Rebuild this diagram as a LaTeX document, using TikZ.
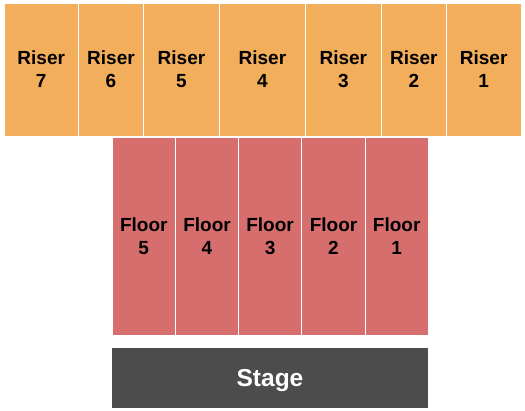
\documentclass[tikz,border=0pt]{standalone}
\usepackage{fontspec}
\setmainfont{Liberation Sans}
\definecolor{riser}{HTML}{F3AE5B}
\definecolor{floorc}{HTML}{D76E6E}
\definecolor{stagec}{HTML}{4C4C4C}
\begin{document}
\begin{tikzpicture}[x=1pt,y=-1pt,
  cell/.style={draw=white,line width=0.9pt,inner sep=0pt,align=center,
    font=\bfseries\fontsize{19}{23}\selectfont,text=black},
  riserbox/.style={cell,fill=riser},
  floorbox/.style={cell,fill=floorc},
  stagebox/.style={fill=stagec,inner sep=0pt,text=white,
    font=\bfseries\fontsize{24.5}{28}\selectfont}]
\useasboundingbox (0,0) rectangle (525,410);
% Risers
\foreach \name/\xa/\xb/\lab in {r7/4/78.5/7, r6/78.5/143.5/6, r5/143.5/219.5/5, r4/219.5/305.3/4, r3/305.3/381.3/3, r2/381.3/446.3/2, r1/446.3/521/1}{
  \path[riserbox] (\xa,3) rectangle (\xb,136.5);
  \node[cell,draw=none,fill=none] (\name) at ({(\xa+\xb)/2},69.5) {Riser\\\lab};
}
% Floors
\foreach \name/\xa/\xb/\lab in {f5/112/175.5/5, f4/175.5/238.5/4, f3/238.5/301.7/3, f2/301.7/365.3/2, f1/365.3/428/1}{
  \path[floorbox] (\xa,137.5) rectangle (\xb,335.7);
  \node[cell,draw=none,fill=none] (\name) at ({(\xa+\xb)/2},236) {Floor\\\lab};
}
% Stage
\path[stagebox] (112,348) rectangle (428,408);
\node[stagebox,fill=none] (stage) at (270,381) {Stage};
\end{tikzpicture}
\end{document}
